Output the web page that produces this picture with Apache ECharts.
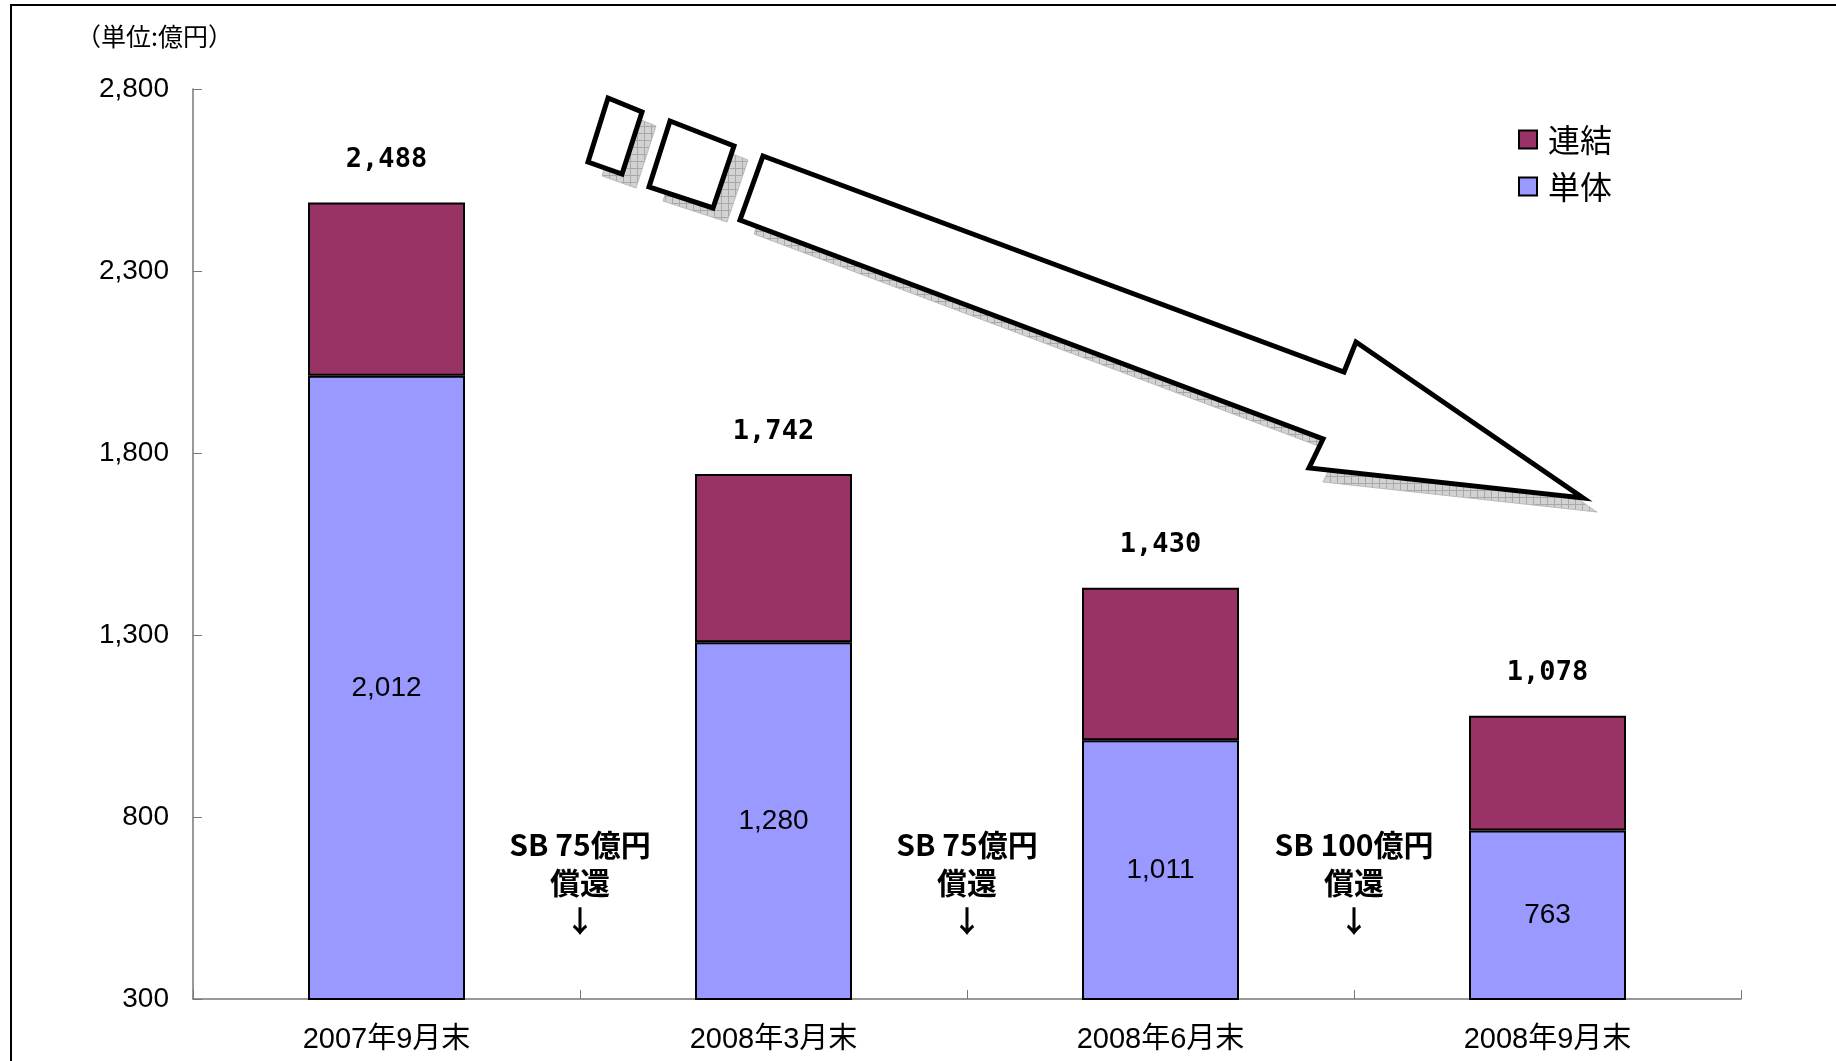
<!DOCTYPE html>
<html>
<head>
<meta charset="utf-8">
<script src="https://cdn.jsdelivr.net/npm/echarts@6/dist/echarts.min.js"></script>
<style>
  html, body { margin: 0; padding: 0; background: #fff; }
  #main { width: 1836px; height: 1061px; }
</style>
</head>
<body>
<div id="main"></div>
<script>
// values (unit: 億円)
const categories = ['2007年9月末', '2008年3月末', '2008年6月末', '2008年9月末'];
const tantai = [2012, 1280, 1011, 763];          // 単体
const renketsu = [476, 462, 419, 315];           // 連結 part on top
const totals = [2488, 1742, 1430, 1078];
const notes = ['SB 75億円\n償還\n↓', 'SB 75億円\n償還\n↓', 'SB 100億円\n償還\n↓'];
const yMin = 300, yMax = 2800, yStep = 500;

const numFont = '"Liberation Sans", "Noto Sans CJK JP", sans-serif';
const cjkFont = '"Noto Sans CJK JP", "Liberation Sans", sans-serif';
const fmt = v => Number(v).toLocaleString('en-US');

// decorative arrow (pixel shape, not data)
const arrowPts = [[763,156],[1344,372],[1356,342],[1583,498],[1309,468],[1323,439],[740,220]];
const box1 = [[608,98],[642,112],[622,174],[588,162]];
const box2 = [[670,121],[734,146],[713,208],[649,187]];
const shift = (pts, dx, dy) => pts.map(p => [p[0] + dx, p[1] + dy]);

// small grid pattern for the shadow
const pat = document.createElement('canvas');
pat.width = 7; pat.height = 7;
(function () {
  const c = pat.getContext('2d');
  c.fillStyle = '#d2d2d2'; c.fillRect(0, 0, 7, 7);
  c.fillStyle = '#a8a8a8'; c.fillRect(0, 0, 7, 1); c.fillRect(0, 0, 1, 7);
})();

function deco(pts) {
  return [
    { type: 'polygon', shape: { points: shift(pts, 14, 14) },
      style: { fill: { image: pat, repeat: 'repeat' }, stroke: '#bbb', lineWidth: 1 }, z: 1 },
    { type: 'polygon', shape: { points: pts },
      style: { fill: '#fff', stroke: '#000', lineWidth: 5, lineJoin: 'miter' }, z: 2 }
  ];
}

const chart = echarts.init(document.getElementById('main'));

chart.setOption({
  backgroundColor: '#fff',
  animation: false,
  grid: { left: 193, right: 95, top: 89, bottom: 62 },
  legend: {
    data: ['連結', '単体'],
    orient: 'vertical',
    left: 1513, top: 117,
    itemWidth: 18, itemHeight: 18,
    itemGap: 12,
    icon: 'rect',
    textStyle: { fontSize: 32, color: '#000', fontFamily: cjkFont, padding: [0, 0, 0, 6], lineHeight: 35 }
  },
  xAxis: {
    type: 'category',
    data: categories,
    axisLine: { lineStyle: { color: '#777', width: 1.5 } },
    axisTick: { show: true, inside: true, length: 9, lineStyle: { color: '#777' } },
    axisLabel: { fontSize: 29, color: '#000', margin: 26, fontFamily: numFont }
  },
  yAxis: {
    type: 'value',
    min: yMin, max: yMax, interval: yStep,
    axisLine: { show: true, lineStyle: { color: '#777', width: 1.5 } },
    axisTick: { show: true, inside: true, length: 9, lineStyle: { color: '#777' } },
    splitLine: { show: false },
    axisLabel: { fontSize: 28, color: '#000', margin: 24, fontFamily: numFont, formatter: fmt }
  },
  series: [
    {
      name: '単体', type: 'bar', stack: 'all', barWidth: 157,
      data: tantai,
      itemStyle: { color: '#9999FF', borderColor: '#000', borderWidth: 2 },
      label: { show: true, position: 'inside', fontSize: 28, color: '#000', fontFamily: numFont,
               formatter: p => fmt(p.value) }
    },
    {
      name: '連結', type: 'bar', stack: 'all', barWidth: 157,
      data: renketsu,
      itemStyle: { color: '#993366', borderColor: '#000', borderWidth: 2 },
      label: { show: true, position: 'top', distance: 29, fontSize: 27, fontWeight: 'bold',
               color: '#000', fontFamily: '"DejaVu Sans Mono", monospace',
               formatter: p => fmt(totals[p.dataIndex]) }
    }
  ],
  graphic: []
});

// unit label, frame, arrow, and SB notes placed at the category boundaries
function placeGraphics() {
  const items = [
    { type: 'rect', shape: { x: 11, y: 5, width: 1900, height: 1100 },
      style: { fill: null, stroke: '#000', lineWidth: 2 }, z: 0, silent: true },
    { type: 'text', left: 76, top: 24,
      style: { text: '（単位:億円）', font: '25px ' + cjkFont, fill: '#000' } }
  ].concat(deco(box1), deco(box2), deco(arrowPts));

  const yMid = chart.convertToPixel({ yAxisIndex: 0 }, 621);
  notes.forEach((t, i) => {
    const x0 = chart.convertToPixel({ xAxisIndex: 0 }, categories[i]);
    const x1 = chart.convertToPixel({ xAxisIndex: 0 }, categories[i + 1]);
    items.push({
      type: 'text', x: (x0 + x1) / 2, y: yMid,
      style: { text: t, font: 'bold 30px ' + cjkFont, fill: '#000',
               align: 'center', verticalAlign: 'middle', lineHeight: 38 }
    });
  });
  chart.setOption({ graphic: items });
}
placeGraphics();
</script>
</body>
</html>
